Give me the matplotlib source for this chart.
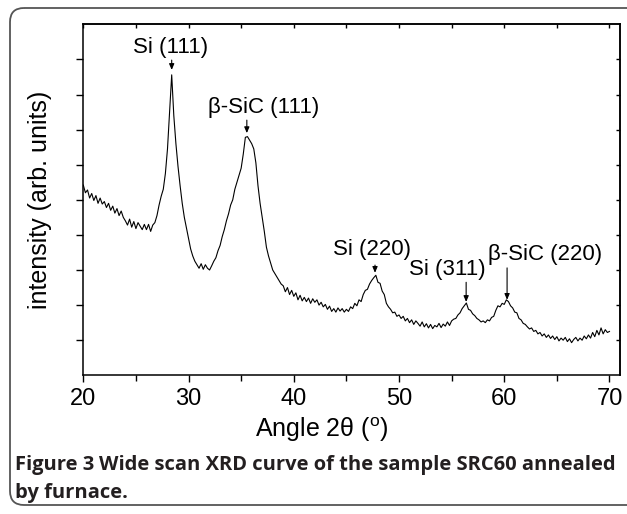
import matplotlib
matplotlib.use("Agg")
import matplotlib.pyplot as plt
from matplotlib.patches import FancyBboxPatch
import numpy as np

plt.rcParams['font.family'] = ['Liberation Sans', 'DejaVu Sans']
plt.rcParams['mathtext.fontset'] = 'custom'
plt.rcParams['mathtext.rm'] = 'Liberation Sans'

# ---- data (2theta in degrees, intensity in arbitrary units) ----
angle_start = 20.0
angle_step = 0.2
intensity = [
    5.42, 5.20, 5.28, 5.05, 5.18, 4.98, 5.12, 4.90, 5.05, 4.88,   # 20.0-21.8
    4.95, 4.78, 4.90, 4.70, 4.82, 4.62, 4.75, 4.55, 4.68, 4.50,   # 22.0-23.8
    4.40, 4.28, 4.45, 4.22, 4.38, 4.18, 4.35, 4.25, 4.15, 4.30,   # 24.0-25.8
    4.15, 4.30, 4.10, 4.28, 4.35, 4.55, 4.85, 5.10, 5.30, 5.75,   # 26.0-27.8
    6.45, 7.50, 8.56, 7.40, 6.60, 5.95, 5.40, 4.90, 4.50, 4.20,   # 28.0-29.8
    3.90, 3.60, 3.40, 3.25, 3.15, 3.05, 3.18, 3.02, 3.15, 3.05,   # 30.0-31.8
    3.00, 3.12, 3.25, 3.35, 3.55, 3.70, 3.95, 4.15, 4.40, 4.60,   # 32.0-33.8
    4.85, 5.00, 5.30, 5.50, 5.70, 5.90, 6.30, 6.78, 6.80, 6.70,   # 34.0-35.8
    6.60, 6.45, 6.05, 5.40, 4.90, 4.50, 4.10, 3.65, 3.40, 3.20,   # 36.0-37.8
    3.00, 2.90, 2.80, 2.70, 2.60, 2.55, 2.38, 2.50, 2.30, 2.42,   # 38.0-39.8
    2.25, 2.35, 2.15, 2.28, 2.12, 2.22, 2.10, 2.20, 2.05, 2.18,   # 40.0-41.8
    2.08, 2.15, 2.00, 2.08, 1.95, 2.02, 1.88, 1.97, 1.82, 1.90,   # 42.0-43.8
    1.80, 1.92, 1.83, 1.90, 1.80, 1.88, 1.82, 1.95, 1.90, 2.05,   # 44.0-45.8
    1.98, 2.15, 2.10, 2.30, 2.42, 2.45, 2.60, 2.70, 2.78, 2.85,   # 46.0-47.8
    2.65, 2.62, 2.40, 2.30, 2.05, 1.95, 1.88, 1.78, 1.80, 1.68,   # 48.0-49.8
    1.72, 1.62, 1.68, 1.55, 1.62, 1.50, 1.58, 1.45, 1.55, 1.48,   # 50.0-51.8
    1.40, 1.52, 1.38, 1.47, 1.35, 1.45, 1.33, 1.42, 1.38, 1.48,   # 52.0-53.8
    1.36, 1.46, 1.40, 1.52, 1.42, 1.55, 1.60, 1.62, 1.72, 1.78,   # 54.0-55.8
    1.90, 1.98, 2.06, 1.88, 1.85, 1.75, 1.70, 1.62, 1.58, 1.52,   # 56.0-57.8
    1.55, 1.50, 1.58, 1.55, 1.65, 1.68, 1.85, 1.98, 1.95, 2.05,   # 58.0-59.8
    2.02, 2.15, 2.10, 1.98, 1.92, 1.80, 1.78, 1.62, 1.58, 1.48,   # 60.0-61.8
    1.45, 1.38, 1.32, 1.35, 1.25, 1.28, 1.18, 1.22, 1.12, 1.18,   # 62.0-63.8
    1.08, 1.15, 1.05, 1.12, 1.02, 1.10, 0.98, 1.06, 1.00, 1.08,   # 64.0-65.8
    0.96, 1.04, 0.93, 1.02, 1.08, 0.98, 1.06, 1.00, 1.12, 1.04,   # 66.0-67.8
    1.15, 1.06, 1.22, 1.10, 1.28, 1.15, 1.35, 1.18, 1.30, 1.22,   # 68.0-69.8
    1.25,                                                         # 70.0
]
angle = angle_start + angle_step * np.arange(len(intensity))

peak_labels = ['Si (111)', 'β-SiC (111)', 'Si (220)', 'Si (311)', 'β-SiC (220)']
peak_pos = [28.40, 35.54, 47.72, 56.38, 60.27]
arrow_top = [8.98, 7.27, 3.14, 2.65, 3.06]
arrow_tip = [8.70, 6.90, 2.92, 2.09, 2.15]
label_xy = [(28.26, 9.35), (37.17, 7.62), (47.44, 3.57), (54.57, 3.00), (63.90, 3.43)]

xticks_major = [20, 30, 40, 50, 60, 70]

caption_bold = 'Figure 3 '
caption_line1 = 'Wide scan XRD curve of the sample SRC60 annealed'
caption_line2 = 'by furnace.'

W, H = 627, 514
fig = plt.figure(figsize=(W / 100, H / 100), dpi=100)

# background frame (pixel coordinates)
bg = fig.add_axes([0, 0, 1, 1])
bg.set_xlim(0, W)
bg.set_ylim(H, 0)
bg.axis('off')
bg.add_patch(FancyBboxPatch((10, 8), 660, 497,
                            boxstyle='round,pad=0,rounding_size=14',
                            fill=False, edgecolor='#555555', linewidth=1.3))

ax = fig.add_axes([83.3 / W, 1 - 375.3 / H, (620 - 83.3) / W, (375.3 - 24.3) / H])
ax.plot(angle, intensity, color='black', linewidth=0.8)
ax.set_xlim(20, 71)
ax.set_ylim(0, 10)

ax.set_xticks(xticks_major)
ax.set_xticks(np.arange(25, 71, 10), minor=True)
ax.set_yticks(np.arange(1, 10))
ax.set_yticklabels([])

ax.tick_params(axis='x', which='major', direction='out', length=5, width=1.0,
               labelsize=17, pad=4, top=False)
ax.tick_params(axis='x', which='minor', direction='out', length=4, width=1.0)
ax.tick_params(axis='y', which='major', direction='out', length=5, width=1.0)

# mirrored ticks: top and right, pointing inward
sec_x = ax.secondary_xaxis('top')
sec_x.set_xticks(np.arange(20, 71, 5))
sec_x.set_xticklabels([])
sec_x.tick_params(direction='in', length=3, width=1.0)
sec_y = ax.secondary_yaxis('right')
sec_y.set_yticks(np.arange(1, 10))
sec_y.set_yticklabels([])
sec_y.tick_params(direction='in', length=3, width=1.0)

for sp in ax.spines.values():
    sp.set_linewidth(1.1)
sec_x.spines['top'].set_linewidth(1.1)
sec_y.spines['right'].set_linewidth(1.1)

ax.set_xlabel('Angle 2θ ($^{\\rm o}$)', fontsize=18, labelpad=2)
ax.xaxis.set_label_coords(0.445, -0.115)
ax.set_ylabel('intensity (arb. units)', fontsize=18, labelpad=14)

for lab, px, yt, ytip, (tx, ty) in zip(peak_labels, peak_pos, arrow_top, arrow_tip, label_xy):
    ax.annotate('', xy=(px, ytip), xytext=(px, yt),
                arrowprops=dict(arrowstyle='-|>,head_length=0.35,head_width=0.15',
                                color='black', lw=0.8, shrinkA=0, shrinkB=0))
    ax.text(tx, ty, lab, ha='center', va='center', fontsize=16)

cap_font = dict(fontsize=14.5, family=['Open Sans', 'DejaVu Sans'], color='#231f20',
                va='center', ha='left', fontweight='bold')
t1 = fig.text(15 / W, 1 - 465 / H, caption_bold, **cap_font)
fig.canvas.draw()
bb = t1.get_window_extent()
fig.text(bb.x1 / W, 1 - 465 / H, caption_line1, **cap_font)
fig.text(15 / W, 1 - 493 / H, caption_line2, **cap_font)

fig.savefig('out.png', dpi=100)
